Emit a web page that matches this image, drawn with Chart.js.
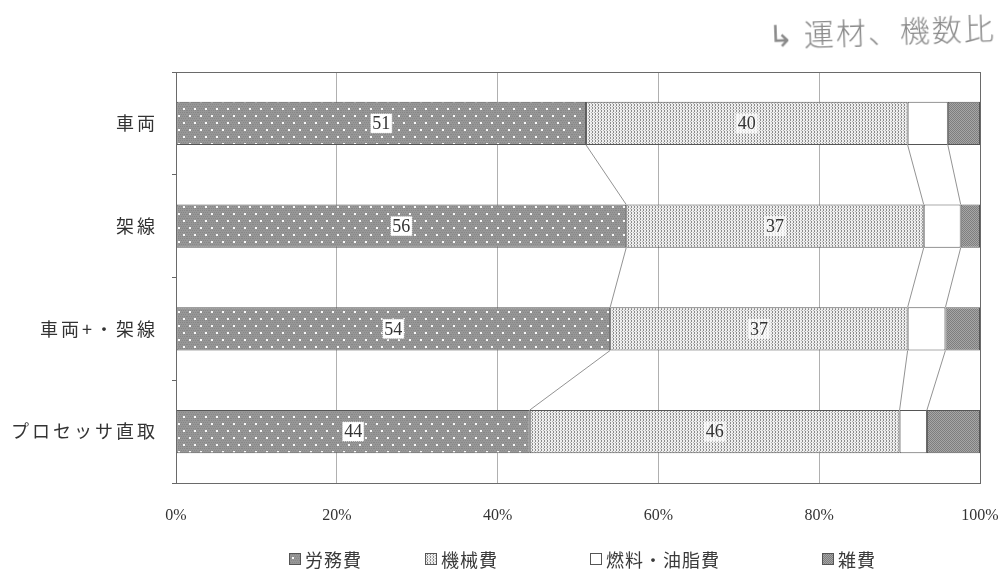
<!DOCTYPE html>
<html>
<head>
<meta charset="utf-8">
<script src="https://cdn.jsdelivr.net/npm/chart.js@4/dist/chart.umd.min.js"></script>
<style>
  body { margin: 0; background: #fff; }
  #wrap { position: relative; width: 1006px; height: 576px; }
  #note { position: absolute; left: 768px; top: 8px; font-family: "Noto Sans CJK JP"; font-weight: 300;
          font-size: 30px; color: #8a8a8a; transform: rotate(-2deg); letter-spacing: 2px; }
  .lg { position: absolute; top: 546px; font-family: "Noto Sans CJK JP"; font-size: 18px; color: #3a3a3a;
        display: flex; align-items: center; letter-spacing: 1px; }
  .lg canvas { width: 10px; height: 10px; border: 1px solid #555; margin-right: 4px; }
</style>
</head>
<body>
<div id="wrap">
  <canvas id="c" width="1006" height="576"></canvas>
  <div id="note">↳ 運材、機数比</div>
  <div id="legend"></div>
</div>
<script>
const categories = ['車両', '架線', '車両+・架線', 'プロセッサ直取'];
const seriesNames = ['労務費', '機械費', '燃料・油脂費', '雑費'];
const labor = [51, 56, 54, 44];
const machine = [40, 37, 37, 46];
const fuel = [5, 4.6, 4.7, 3.4];
const misc = [4, 2.4, 4.3, 6.6];
const xTicks = [0, 20, 40, 60, 80, 100];
const legendLeft = [289, 425, 590, 822];

// fill textures for the four cost types
function makePattern(kind) {
    const t = document.createElement('canvas');
    const g = t.getContext('2d');
    if (kind === 'labor') {
        t.width = 11; t.height = 14;
        g.fillStyle = '#979797'; g.fillRect(0, 0, 11, 14);
        g.fillStyle = '#878787';
        for (let y = 0; y < 14; y += 2) for (let x = (y / 2) % 2; x < 11; x += 2) g.fillRect(x, y, 1, 1);
        g.fillStyle = '#fafafa';
        g.fillRect(2, 3, 2, 2);
        g.fillRect(7, 10, 2, 2);
    } else if (kind === 'machine') {
        t.width = 3; t.height = 3;
        g.fillStyle = '#eeeeee'; g.fillRect(0, 0, 3, 3);
        g.fillStyle = '#8a8a8a'; g.fillRect(1, 0, 1, 1); g.fillRect(1, 2, 1, 1);
        g.fillStyle = '#b0b0b0'; g.fillRect(0, 1, 1, 1);
    } else if (kind === 'misc') {
        t.width = 2; t.height = 2;
        g.fillStyle = '#a6a6a6'; g.fillRect(0, 0, 2, 2);
        g.fillStyle = '#7e7e7e'; g.fillRect(0, 0, 1, 1); g.fillRect(1, 1, 1, 1);
    } else {
        t.width = 1; t.height = 1;
        g.fillStyle = '#fff'; g.fillRect(0, 0, 1, 1);
    }
    return t;
}
const ctx = document.getElementById('c').getContext('2d');
const tiles = ['labor', 'machine', 'fuel', 'misc'].map(makePattern);
const fills = tiles.map(t => ctx.createPattern(t, 'repeat'));

// thin lines linking segment boundaries of neighbouring bars
const linkLines = {
    id: 'linkLines',
    afterDatasetsDraw(chart) {
        const c = chart.ctx;
        c.save();
        c.strokeStyle = '#777'; c.lineWidth = 0.8;
        for (let d = 0; d < 3; d++) {
            const bars = chart.getDatasetMeta(d).data;
            for (let i = 0; i < bars.length - 1; i++) {
                const a = bars[i].getProps(['x', 'y', 'height'], true);
                const b = bars[i + 1].getProps(['x', 'y', 'height'], true);
                c.beginPath();
                c.moveTo(a.x, a.y + a.height / 2);
                c.lineTo(b.x, b.y - b.height / 2);
                c.stroke();
            }
        }
        c.restore();
    }
};

// boxed value labels on the first two segments
const valueBoxes = {
    id: 'valueBoxes',
    afterDatasetsDraw(chart) {
        const c = chart.ctx;
        c.save();
        c.font = '18px "Liberation Serif"';
        c.textAlign = 'center'; c.textBaseline = 'middle';
        [0, 1].forEach(d => {
            const ds = chart.data.datasets[d];
            chart.getDatasetMeta(d).data.forEach((bar, i) => {
                const p = bar.getProps(['x', 'y', 'base'], true);
                const cx = (p.x + p.base) / 2;
                const txt = String(ds.data[i]);
                const w = c.measureText(txt).width + 4;
                c.fillStyle = d === 0 ? '#fff' : 'rgba(255,255,255,0.7)';
                c.fillRect(cx - w / 2, p.y - 10, w, 20);
                if (d === 0) {
                    c.setLineDash([1, 1]); c.strokeStyle = '#888'; c.lineWidth = 1;
                    c.strokeRect(cx - w / 2, p.y - 10, w, 20); c.setLineDash([]);
                }
                c.fillStyle = '#333';
                c.fillText(txt, cx, p.y + 1);
            });
        });
        c.restore();
    }
};

// outer frame of the plot area, and wider spacing for category names
const frame = {
    id: 'frame',
    afterLayout(chart) {
        const y = chart.scales.y;
        if (y._spaced) return;
        const draw = y.drawLabels.bind(y);
        y.drawLabels = area => {
            chart.ctx.save();
            chart.ctx.letterSpacing = '3px';
            draw(area);
            chart.ctx.restore();
        };
        y._spaced = true;
    },
    afterDraw(chart) {
        const a = chart.chartArea, c = chart.ctx;
        c.save();
        c.strokeStyle = '#6a6a6a'; c.lineWidth = 1;
        c.strokeRect(a.left + 0.5, a.top + 0.5, a.right - a.left, a.bottom - a.top);
        c.restore();
    }
};

const values = [labor, machine, fuel, misc];
new Chart(ctx, {
    type: 'bar',
    data: {
        labels: categories,
        datasets: seriesNames.map((name, k) => ({
            label: name,
            data: values[k],
            backgroundColor: fills[k],
            borderColor: '#555',
            borderWidth: 1,
            borderSkipped: false,
            categoryPercentage: 0.42,
            barPercentage: 1
        }))
    },
    options: {
        indexAxis: 'y',
        responsive: false,
        animation: false,
        layout: { padding: { top: 72, right: 26, left: 0, bottom: 0 } },
        plugins: { legend: { display: false }, tooltip: { enabled: false } },
        scales: {
            x: {
                stacked: true, min: 0, max: 100,
                afterBuildTicks: s => { s.ticks = xTicks.map(v => ({ value: v })); },
                afterFit: s => { s.height = 93; s.paddingLeft = 0; s.paddingRight = 0; },
                grid: { color: '#b0b0b0', drawTicks: false },
                border: { display: false },
                ticks: { padding: 23, color: '#333', font: { family: 'Liberation Serif', size: 16 }, callback: v => v + '%' }
            },
            y: {
                stacked: true,
                afterFit: s => { s.width = 176; s.paddingTop = 0; s.paddingBottom = 0; },
                grid: { drawOnChartArea: false, offset: true, tickLength: 4, color: '#666' },
                border: { display: false },
                ticks: { padding: 14, color: '#333', font: { family: 'Noto Sans CJK JP', size: 18 } }
            }
        }
    },
    plugins: [linkLines, valueBoxes, frame]
});

// legend below the chart
const legend = document.getElementById('legend');
seriesNames.forEach((name, k) => {
    const item = document.createElement('div');
    item.className = 'lg';
    item.style.left = legendLeft[k] + 'px';
    const sw = document.createElement('canvas');
    sw.width = 10; sw.height = 10;
    const sg = sw.getContext('2d');
    sg.fillStyle = sg.createPattern(tiles[k], 'repeat');
    sg.fillRect(0, 0, 10, 10);
    item.appendChild(sw);
    item.appendChild(document.createTextNode(name));
    legend.appendChild(item);
});
</script>
</body>
</html>
